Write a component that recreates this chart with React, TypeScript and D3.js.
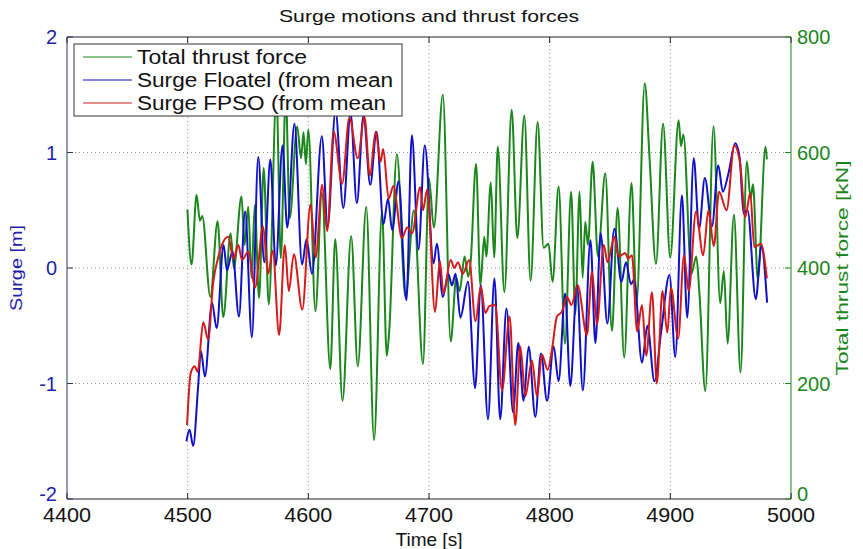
import React from "react";
import * as d3 from "d3";

// ---- data ----
const thrustTime = [4499.8,4503.2,4507.4,4510.1,4512.1,4518.8,4524.8,4529.5,4535.6,4538.3,4544.6,4547.2,4550.2,4552.9,4555.6,4559.2,4563,4567.2,4573.6,4577.2,4581.3,4584.6,4590.7,4594,4596,4598,4600,4605.9,4611.2,4618.2,4622.3,4628.3,4635.5,4641,4648,4654.5,4661.1,4665,4667,4673.4,4680.5,4687.5,4695,4700,4704,4711.5,4718,4722.6,4725.4,4729.5,4732.5,4734.5,4739,4742.6,4745.8,4747.5,4751.2,4754,4757,4762.5,4768.5,4773.2,4779,4784.2,4790,4795,4799,4802.4,4807.4,4812.7,4817.8,4821.2,4824.8,4827.3,4829.5,4831.7,4835.6,4840,4846.1,4851.6,4856.3,4861.8,4867.8,4872,4878.8,4882.7,4888.1,4894,4899.9,4906.9,4908.8,4910.8,4917.5,4921.5,4924,4929,4935.8,4941.3,4944.4,4947.4,4952.7,4958.2,4963.4,4966.5,4968.5,4972.5,4978.9,4980];
const thrustForce = [501,406,527,482,490,350,481,315,460,400,524,440,506,383,509,348,573,337,700,417,700,486,645,590,635,580,640,325,530,225,450,170,455,230,506,102,498,248,290,597,350,500,234,555,470,700,273,383,360,420,385,410,580,370,454,420,548,418,610,358,674,452,664,378,653,435,442,376,541,269,532,320,532,383,480,440,584,420,564,291,504,245,547,340,720,593,407,650,418,656,611,631,390,420,360,187,646,339,395,269,492,219,585,520,545,380,610,588];

const floatelTime = [4499,4501.5,4504.6,4508.5,4511,4514.3,4520.2,4524,4529.8,4532.5,4537.1,4542.5,4547.6,4553.2,4558.5,4563.5,4568.5,4573,4578.6,4582.5,4588.5,4594.8,4598.5,4603,4611.2,4616,4622.5,4629,4635,4640.2,4645.7,4651.3,4656.5,4662.3,4666,4669.5,4674.8,4681.3,4685.8,4691.3,4696.5,4703.8,4706.5,4711.5,4716,4719,4722,4726,4732.3,4738.2,4742.9,4748.9,4754.2,4759,4764.2,4769.7,4774,4778.4,4782.6,4788.1,4792.8,4797.8,4803.3,4807.4,4812.8,4817.1,4822.6,4827.5,4833.8,4837.9,4842.2,4847.8,4853.6,4859.5,4863.2,4867.4,4870,4876.5,4881,4886.8,4892.3,4899.3,4904.1,4909.6,4914,4919.4,4923.8,4928.6,4934.5,4939.7,4943.5,4948.2,4953.8,4957.5,4960.7,4964,4970.8,4975.4,4980.2];
const floatelSurge = [-1.5,-1.4,-1.54,-1.05,-0.72,-0.94,-0.3,-0.52,0.2,-0.02,0.14,-0.42,0.49,-0.6,0.96,0.05,0.94,0.02,1.06,0.35,1.25,0.03,0.25,-0.05,1.14,0.36,1.36,0.52,1.34,0.56,1.32,0.72,1.18,0.38,0.6,0.33,0.75,-0.28,1.15,0.16,1.06,0.04,0.21,-0.25,-0.05,-0.15,-0.05,-0.43,-0.12,-1.04,-0.15,-1.31,-0.09,-1.31,-0.35,-1.25,-0.65,-1.15,-0.68,-1.29,-0.74,-1.15,-0.68,-0.98,-0.22,-1.02,-0.15,-1.06,0.24,-0.65,0.3,-0.48,0.34,-0.12,0.05,-0.14,-0.1,-0.82,-0.5,-0.98,-0.56,-0.06,-0.77,0.63,-0.43,0.95,0.34,0.78,0.36,0.89,0.66,0.82,1.08,0.95,0.47,0.5,-0.27,0.19,-0.3];

const fpsoTime = [4499.5,4502.5,4505.9,4508.3,4512.9,4517,4521,4526,4533.6,4538,4542,4545,4550.3,4555.8,4562.5,4566.7,4570.5,4575.8,4580.5,4583.8,4588,4595,4601.8,4606,4611.5,4615.6,4621,4628,4634,4641,4646.5,4651,4655.8,4659.8,4662,4666.6,4670.5,4677.5,4682,4686,4692.7,4695,4698.5,4705,4709,4712,4718,4721,4724,4728,4733.3,4738.5,4743,4746.6,4750,4754.9,4760.5,4766.8,4771.5,4775.7,4779.8,4785.3,4789.5,4793.6,4798.3,4802,4806,4810,4814.4,4818,4823.2,4830.9,4835.1,4839.2,4844.8,4848,4853.6,4857.2,4862.7,4865,4868.2,4872.5,4876.5,4880,4884.8,4888.8,4893.5,4897.5,4900.5,4906.5,4911.3,4915.2,4921.3,4927.2,4931.6,4936,4940.4,4946.6,4953,4957.9,4962.1,4966.2,4969.6,4975,4980];
const fpsoSurge = [-1.36,-0.91,-0.85,-0.9,-0.47,-0.62,-0.14,0.12,0.27,0.08,0.2,0.07,0.14,-0.17,0.36,-0.05,0.15,-0.58,0.2,-0.2,0.12,-0.36,0.55,0.09,0.72,0.32,1.18,0.73,1.3,0.95,1.31,0.8,1.18,0.92,1.03,0.6,0.71,0.26,0.35,0.3,0.7,0.5,0.68,-0.38,0.06,-0.22,0.07,0,0.05,-0.05,0.07,-0.46,-0.16,-0.39,-0.33,-0.32,-1.06,-0.42,-1.36,-0.68,-1.11,-0.8,-1.11,-0.75,-0.88,-0.7,-0.42,-0.38,-0.25,-0.32,-0.15,-0.58,-0.03,-0.49,0.2,0.05,0.27,0.1,0.13,0.08,0.11,-0.55,-0.32,-0.76,-0.21,-1.0,-0.2,-0.56,-0.17,-0.61,0.11,-0.2,0.49,0.11,0.5,0.19,0.66,0.5,1.06,0.9,0.44,0.65,0.18,0.21,-0.09];

const xTicks = [4400, 4500, 4600, 4700, 4800, 4900, 5000];
const leftTicks = [-2, -1, 0, 1, 2];
const rightTicks = [0, 200, 400, 600, 800];
const legendLabels = ["Total thrust force", "Surge Floatel (from mean", "Surge FPSO (from mean"];
const legendTextWidths = [170, 256, 249];

const W = 863, H = 549;
const L = 67, R = 791, T = 37, B = 499;
const GREEN = "#1b861b", BLUE = "#1010c8", RED = "#d41a1a";
const FONT = "'Liberation Sans', Arial, sans-serif";

export default function App() {
  const x = d3.scaleLinear().domain([4400, 5000]).range([L, R]);
  const yL = d3.scaleLinear().domain([-2, 2]).range([B, T]);
  const yR = d3.scaleLinear().domain([0, 800]).range([B, T]);

  const mk = (xs: number[], ys: number[], ys2: d3.ScaleLinear<number, number>) =>
    d3.line<number>().x((_, i) => x(xs[i])).y((v) => ys2(v)).curve(d3.curveMonotoneX)(ys) || "";

  const greenPath = mk(thrustTime, thrustForce, yR);
  const bluePath = mk(floatelTime, floatelSurge, yL);
  const redPath = mk(fpsoTime, fpsoSurge, yL);

  const legendColors = [GREEN, BLUE, RED];

  return (
    <svg width={W} height={H} style={{ position: "absolute", left: 0, top: 0, background: "#fff" }} fontFamily={FONT}>
      <rect x={0} y={0} width={W} height={H} fill="#fff" />
      <defs>
        <clipPath id="plotclip">
          <rect x={L} y={T} width={R - L} height={B - T} />
        </clipPath>
      </defs>
      {/* grid */}
      {xTicks.slice(1, -1).map((t) => (
        <line key={"gx" + t} x1={x(t)} x2={x(t)} y1={T} y2={B} stroke="#777" strokeWidth={0.8} strokeDasharray="1,3" />
      ))}
      {leftTicks.slice(1, -1).map((t) => (
        <line key={"gy" + t} x1={L} x2={R} y1={yL(t)} y2={yL(t)} stroke="#777" strokeWidth={0.8} strokeDasharray="1,3" />
      ))}
      {/* series */}
      <g clipPath="url(#plotclip)" fill="none" strokeWidth={2} strokeLinejoin="round">
        <path d={greenPath} stroke={GREEN} />
        <path d={bluePath} stroke={BLUE} />
        <path d={redPath} stroke={RED} />
      </g>
      {/* frame */}
      <line x1={L} x2={R} y1={T} y2={T} stroke="#222" strokeWidth={1} />
      <line x1={L} x2={R} y1={B} y2={B} stroke="#222" strokeWidth={1} />
      <line x1={L} x2={L} y1={T} y2={B} stroke="#30306a" strokeWidth={1} />
      <line x1={R} x2={R} y1={T} y2={B} stroke={GREEN} strokeWidth={1} />
      {/* x ticks */}
      {xTicks.map((t) => (
        <g key={"xt" + t}>
          <line x1={x(t)} x2={x(t)} y1={B} y2={B - 6} stroke="#222" />
          <line x1={x(t)} x2={x(t)} y1={T} y2={T + 6} stroke="#222" />
          <text x={x(t)} y={B + 23} textAnchor="middle" fontSize={21} fill="#111" textLength={48} lengthAdjust="spacingAndGlyphs">{t}</text>
        </g>
      ))}
      {/* left ticks */}
      {leftTicks.map((t) => (
        <g key={"yl" + t}>
          <line x1={L} x2={L + 6} y1={yL(t)} y2={yL(t)} stroke="#30306a" />
          <text x={L - 10} y={yL(t) + (t === -2 ? 2 : 7)} textAnchor="end" fontSize={20} fill="#1f1fa8">{t}</text>
        </g>
      ))}
      {/* right ticks */}
      {rightTicks.map((t) => (
        <g key={"yr" + t}>
          <line x1={R - 6} x2={R} y1={yR(t)} y2={yR(t)} stroke={GREEN} />
          <text x={R + 6} y={yR(t) + (t === 0 ? 2 : 7)} textAnchor="start" fontSize={20} fill={GREEN}>{t}</text>
        </g>
      ))}
      {/* titles */}
      <text x={(L + R) / 2} y={22} textAnchor="middle" fontSize={17} fill="#111" textLength={300} lengthAdjust="spacingAndGlyphs">Surge motions and thrust forces</text>
      <text x={(L + R) / 2} y={546} textAnchor="middle" fontSize={19} fill="#111">Time [s]</text>
      <text transform={`translate(22,${(T + B) / 2}) rotate(-90)`} textAnchor="middle" fontSize={17} fill="#1f1fa8" textLength={86} lengthAdjust="spacingAndGlyphs">Surge [m]</text>
      <text transform={`translate(848,${(T + B) / 2}) rotate(-90)`} textAnchor="middle" fontSize={17} fill={GREEN} textLength={215} lengthAdjust="spacingAndGlyphs">Total thrust force [kN]</text>
      {/* legend */}
      <rect x={74} y={44} width={328} height={72} fill="#fff" stroke="#333" strokeWidth={1} />
      {legendLabels.map((lab, i) => (
        <g key={lab}>
          <line x1={83} x2={132} y1={57 + i * 23} y2={57 + i * 23} stroke={legendColors[i]} strokeWidth={1.2} />
          <text x={137} y={57 + i * 23 + 7} fontSize={20} fill="#111" textLength={legendTextWidths[i]} lengthAdjust="spacingAndGlyphs">{lab}</text>
        </g>
      ))}
    </svg>
  );
}
